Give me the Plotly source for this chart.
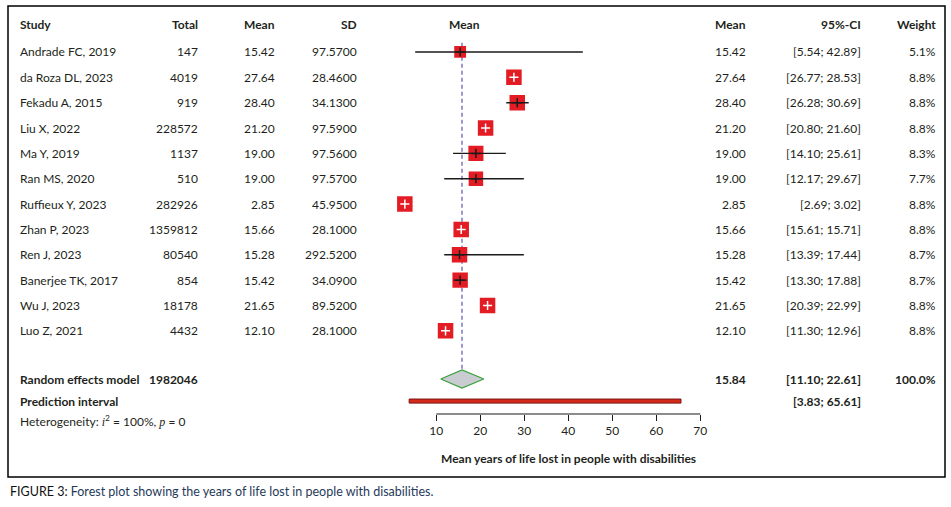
import plotly.graph_objects as go

# ---- data ----
studies = ["Andrade FC, 2019", "da Roza DL, 2023", "Fekadu A, 2015", "Liu X, 2022",
           "Ma Y, 2019", "Ran MS, 2020", "Ruffieux Y, 2023", "Zhan P, 2023",
           "Ren J, 2023", "Banerjee TK, 2017", "Wu J, 2023", "Luo Z, 2021"]
totals = [147, 4019, 919, 228572, 1137, 510, 282926, 1359812, 80540, 854, 18178, 4432]
means = [15.42, 27.64, 28.40, 21.20, 19.00, 19.00, 2.85, 15.66, 15.28, 15.42, 21.65, 12.10]
sds = [97.57, 28.46, 34.13, 97.59, 97.56, 97.57, 45.95, 28.10, 292.52, 34.09, 89.52, 28.10]
ci_lower = [5.54, 26.77, 26.28, 20.80, 14.10, 12.17, 2.69, 15.61, 13.39, 13.30, 20.39, 11.30]
ci_upper = [42.89, 28.53, 30.69, 21.60, 25.61, 29.67, 3.02, 15.71, 17.44, 17.88, 22.99, 12.96]
weights = [5.1, 8.8, 8.8, 8.8, 8.3, 7.7, 8.8, 8.8, 8.7, 8.7, 8.8, 8.8]

# whisker ends as actually drawn in the figure (Ren J is drawn wider than its printed CI)
drawn_lower = [5.2, 26.77, 25.9, 20.80, 13.8, 11.8, 2.69, 15.61, 11.8, 13.9, 20.39, 11.30]
drawn_upper = [43.3, 28.53, 31.0, 21.60, 25.8, 29.9, 3.02, 15.71, 29.9, 16.9, 22.99, 12.96]

total_n = 1982046
pooled_mean = 15.84
pooled_ci = (11.10, 22.61)
pooled_drawn = (11.0, 20.8)
pred_interval = (3.83, 65.61)
x_ticks = [10, 20, 30, 40, 50, 60, 70]

# ---- styling ----
FONT = "Lato"
TXT = "#231f20"
BOX_RED = "#e31b23"
W, H = 951, 507
PX_PER_UNIT = 4.4          # horizontal scale of the plotted axis
row_y = list(range(len(studies)))
y_header, y_pooled, y_pred = -1.1, 12.9, 13.77


def px(x):
    return x / W


def py(y):
    return 1 - y / H


fig = go.Figure()

# boxes sized by weight
sizes = [15.5 * (w / 8.8) ** 0.5 for w in weights]
fig.add_trace(go.Scatter(
    x=means, y=row_y, mode="markers",
    marker=dict(symbol="square", size=sizes, color=BOX_RED, opacity=1, line=dict(width=0)),
    hoverinfo="skip", showlegend=False))

# whiskers: black when the CI reaches past the box, white when it sits inside it
inside = [(hi - lo) * PX_PER_UNIT < s for lo, hi, s in zip(ci_lower, ci_upper, sizes)]
xs, ys = [], []
for i in range(len(studies)):
    if not inside[i]:
        xs += [drawn_lower[i], drawn_upper[i], None]
        ys += [row_y[i], row_y[i], None]
fig.add_trace(go.Scatter(x=xs, y=ys, mode="lines", line=dict(color="#1a1a1a", width=1.4),
                         hoverinfo="skip", showlegend=False))

# small cross marking the point estimate
fig.add_trace(go.Scatter(
    x=means, y=row_y, mode="markers",
    marker=dict(symbol="cross-thin", size=6.5, opacity=1,
                line=dict(width=1.5, color=["white" if f else "#1a1a1a" for f in inside])),
    hoverinfo="skip", showlegend=False))

# pooled estimate diamond
half_h = 0.355
fig.add_trace(go.Scatter(
    x=[pooled_drawn[0], pooled_mean, pooled_drawn[1], pooled_mean, pooled_drawn[0]],
    y=[y_pooled, y_pooled - half_h, y_pooled, y_pooled + half_h, y_pooled],
    mode="lines", fill="toself", fillcolor="#c9cdd2",
    line=dict(color="#3ca03c", width=1.2), hoverinfo="skip", showlegend=False))

shapes = [
    # dashed reference line at the pooled mean
    dict(type="line", xref="x", yref="y", x0=pooled_mean, x1=pooled_mean,
         y0=-0.36, y1=y_pooled - half_h, layer="below",
         line=dict(color="#5656aa", width=1.2, dash="4px,3px")),
    # prediction interval bar
    dict(type="rect", xref="x", yref="y", x0=pred_interval[0], x1=pred_interval[1],
         y0=y_pred - 0.08, y1=y_pred + 0.08, fillcolor="#d42a1a",
         line=dict(color="#7b1212", width=1)),
    # axis line only between first and last tick
    dict(type="line", xref="x", yref="paper", x0=x_ticks[0], x1=x_ticks[-1],
         y0=py(414), y1=py(414), line=dict(color="#1a1a1a", width=1.2)),
    # frame around the figure
    dict(type="rect", xref="paper", yref="paper", x0=px(8), x1=px(945), y0=py(477), y1=py(6),
         line=dict(color="black", width=1.5)),
]

ann = []


def txt(text, x, y, anchor="right", bold=False, yref="y", size=12, color=TXT):
    ann.append(dict(text=f"<b>{text}</b>" if bold else text, x=px(x), y=y, xref="paper",
                    yref=yref, xanchor=anchor, yanchor="middle", showarrow=False,
                    font=dict(family=FONT, size=size, color=color)))


# column positions (right edges, in pixels)
COL_STUDY, COL_TOTAL, COL_MEAN, COL_SD = 18, 200, 277, 359
COL_PLOT, COL_MEAN2, COL_CI, COL_W = 464, 748, 863, 938

for label, x, a in [("Study", COL_STUDY, "left"), ("Total", COL_TOTAL, "right"),
                    ("Mean", COL_MEAN, "right"), ("SD", COL_SD, "right"),
                    ("Mean", COL_PLOT, "center"), ("Mean", COL_MEAN2, "right"),
                    ("95%-CI", COL_CI, "right"), ("Weight", COL_W, "right")]:
    txt(label, x, y_header, anchor=a, bold=True)

for i, name in enumerate(studies):
    y = row_y[i]
    txt(name, COL_STUDY, y, anchor="left")
    txt(f"{totals[i]}", COL_TOTAL, y)
    txt(f"{means[i]:.2f}", COL_MEAN, y)
    txt(f"{sds[i]:.4f}", COL_SD, y)
    txt(f"{means[i]:.2f}", COL_MEAN2, y)
    txt(f"[{ci_lower[i]:.2f}; {ci_upper[i]:.2f}]", COL_CI, y)
    txt(f"{weights[i]:.1f}%", COL_W, y)

txt("Random effects model", COL_STUDY, y_pooled, anchor="left", bold=True)
txt(f"{total_n}", COL_TOTAL, y_pooled, bold=True)
txt(f"{pooled_mean:.2f}", COL_MEAN2, y_pooled, bold=True)
txt(f"[{pooled_ci[0]:.2f}; {pooled_ci[1]:.2f}]", COL_CI, y_pooled, bold=True)
txt("100.0%", COL_W, y_pooled, bold=True)
txt("Prediction interval", COL_STUDY, y_pred, anchor="left", bold=True)
txt(f"[{pred_interval[0]:.2f}; {pred_interval[1]:.2f}]", COL_CI, y_pred, bold=True)

serif = "font-family:'Liberation Serif'"
txt(f"Heterogeneity: <span style=\"{serif}\"><i>i</i></span><sup>2</sup> = 100%, "
    f"<span style=\"{serif}\"><i>p</i></span> = 0", COL_STUDY, py(421), anchor="left", yref="paper")
txt("Mean years of life lost in people with disabilities", 568, py(458), anchor="center",
    bold=True, yref="paper")
txt("<span style='color:#111111'>FIGURE 3:</span> Forest plot showing the years of life lost "
    "in people with disabilities.", 8, py(491), anchor="left", yref="paper", size=12.5,
    color="#1f3a5a")

# x axis: 10 -> 436.3 px, 4.4 px per unit
x0_px = 436.3 - 10 * PX_PER_UNIT
x1_px = x0_px + 80 * PX_PER_UNIT
fig.update_layout(
    width=W, height=H, margin=dict(l=0, r=0, t=0, b=0),
    paper_bgcolor="white", plot_bgcolor="white",
    shapes=shapes, annotations=ann,
    xaxis=dict(domain=[px(x0_px), px(x1_px)], range=[0, 80], tickvals=x_ticks,
               ticks="outside", ticklen=6, tickwidth=1.2, tickcolor="#1a1a1a",
               showline=False, showgrid=False, zeroline=False,
               tickfont=dict(family=FONT, size=12, color=TXT)),
    yaxis=dict(domain=[py(414), 1], range=[14.28, -2.05], visible=False),
)

# drop the browser's default 8px body margin so the figure sits at the page origin
fig.write_html("out.html", config={"displayModeBar": False},
               post_script="document.body.style.margin='0';")
